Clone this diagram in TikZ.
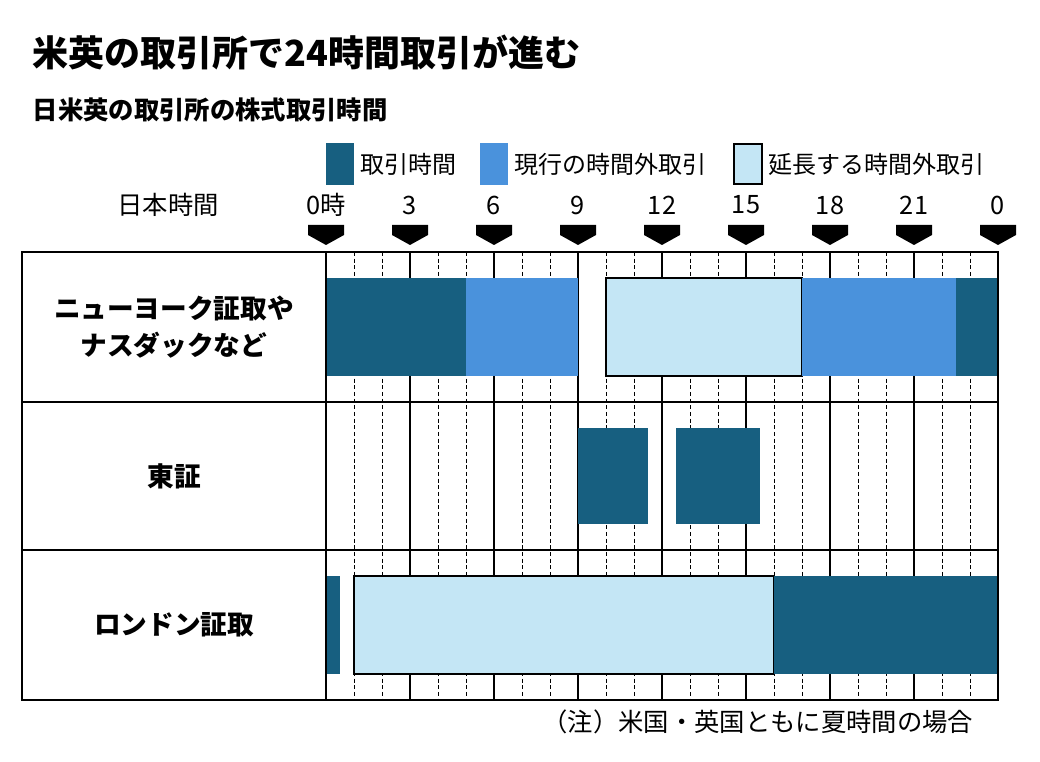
\documentclass[tikz,border=0pt]{standalone}
\usepackage{fontspec}
\setmainfont{Noto Sans CJK JP}
\definecolor{kdark}{HTML}{175F80}
\definecolor{kmid}{HTML}{4A92DC}
\definecolor{klight}{HTML}{C4E6F5}
\begin{document}
\begin{tikzpicture}[x=0.75pt,y=-0.75pt,
  darkbar/.style={fill=kdark},
  midbar/.style={fill=kmid},
  lightbar/.style={fill=klight,draw=black,line width=1.2pt},
  hourlbl/.style={font=\fontsize{19}{19}\selectfont,anchor=center},
  rowlbl/.style={font=\bfseries\fontsize{20}{28}\selectfont,align=center},
  legtxt/.style={font=\fontsize{18}{18}\selectfont,anchor=west}]
\useasboundingbox (0,0) rectangle (1040,762);
% titles
\node[anchor=west,font=\bfseries\fontsize{27}{27}\selectfont] (title) at (28,52) {米英の取引所で24時間取引が進む};
\node[anchor=west,font=\bfseries\fontsize{19}{19}\selectfont] (subtitle) at (28,110) {日米英の取引所の株式取引時間};
% legend
\fill[darkbar] (326,143) rectangle (354,185);
\node[legtxt] (leg1) at (356,164) {取引時間};
\fill[midbar] (480,143) rectangle (508,185);
\node[legtxt] (leg2) at (510,164) {現行の時間外取引};
\draw[lightbar] (734,144) rectangle (762,184);
\node[legtxt] (leg3) at (764,164) {延長する時間外取引};
% hour axis
\node[hourlbl] (jst) at (168,205) {日本時間};
\foreach \h/\t in {0/0時,3/3,6/6,9/9,12/12,15/15,18/18,21/21,24/0} {
  \node[hourlbl] (h\h) at (326+28*\h,205) {\t};
  \fill (326+28*\h-18,225) -- ++(36,0) -- ++(0,10) -- ++(-18,10) -- ++(-18,-10) -- cycle;
}
% grid
\foreach \h in {1,2,4,5,7,8,10,11,13,14,16,17,19,20,22,23}
  \draw[densely dashed,line width=0.6pt] (326+28*\h,252) -- (326+28*\h,700);
\foreach \h in {3,6,...,21}
  \draw[line width=0.8pt] (326+28*\h,252) -- (326+28*\h,700);
% New York
\fill[darkbar] (326,278) rectangle (466,376);
\fill[midbar] (466,278) rectangle (578,376);
\draw[lightbar] (606,278) rectangle (802,376);
\fill[midbar] (802,278) rectangle (956,376);
\fill[darkbar] (956,278) rectangle (998,376);
% Tokyo
\fill[darkbar] (578,428) rectangle (648,524);
\fill[darkbar] (676,428) rectangle (760,524);
% London
\fill[darkbar] (326,576) rectangle (340,674);
\draw[lightbar] (354,576) rectangle (774,674);
\fill[darkbar] (774,576) rectangle (998,674);
% table frame
\draw[line width=1.5pt] (22,252) rectangle (998,700);
\draw[line width=1.5pt] (22,402) -- (998,402) (22,550) -- (998,550) (326,252) -- (326,700);
\node[rowlbl] (ny) at (174,327) {ニューヨーク証取や\\ナスダックなど};
\node[rowlbl] (tse) at (174,476) {東証};
\node[rowlbl] (lse) at (174,625) {ロンドン証取};
\node[anchor=east,font=\fontsize{19}{19}\selectfont] (note) at (978,722) {（注）米国・英国ともに夏時間の場合};
\end{tikzpicture}
\end{document}
